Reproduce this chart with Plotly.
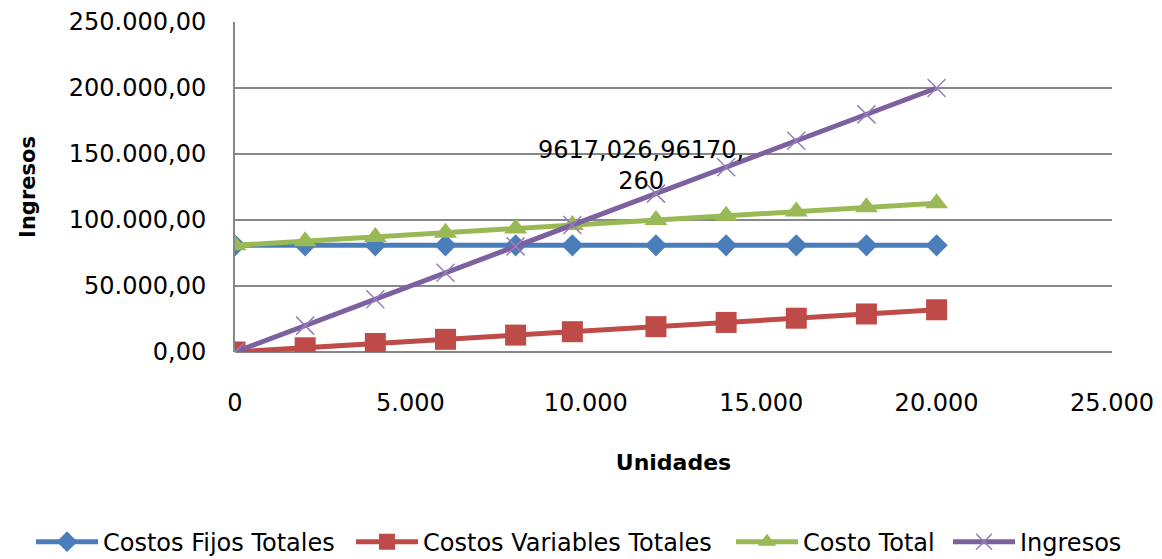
import plotly.graph_objects as go

unidades = [0, 2000, 4000, 6000, 8000, 9617.026, 12000, 14000, 16000, 18000, 20000]
costos_fijos = [80783.02, 80783.02, 80783.02, 80783.02, 80783.02, 80783.02,
                80783.02, 80783.02, 80783.02, 80783.02, 80783.02]
costos_variables = [0, 3200, 6400, 9600, 12800, 15387.24, 19200, 22400, 25600, 28800, 32000]
costo_total = [80783.02, 83983.02, 87183.02, 90383.02, 93583.02, 96170.26,
               99983.02, 103183.02, 106383.02, 109583.02, 112783.02]
ingresos = [0, 20000, 40000, 60000, 80000, 96170.26, 120000, 140000, 160000, 180000, 200000]

etiqueta_equilibrio = "9617,026,96170,<br>260"
etiqueta_x = 11560
etiqueta_y = 141500

FONT = "DejaVu Sans, Verdana, sans-serif"
GRID = "#878787"

fig = go.Figure()
fig.add_trace(go.Scatter(
    x=unidades, y=costos_fijos, name="Costos Fijos Totales", mode="lines+markers",
    line=dict(color="#4A7EBB", width=5), legend="legend",
    marker=dict(symbol="diamond", size=17, color="#4A7EBB")))
fig.add_trace(go.Scatter(
    x=unidades, y=costos_variables, name="Costos Variables Totales", mode="lines+markers",
    line=dict(color="#BE4B48", width=5), legend="legend2",
    marker=dict(symbol="square", size=21, color="#BE4B48")))
fig.add_trace(go.Scatter(
    x=unidades, y=costo_total, name="Costo Total", mode="lines+markers",
    line=dict(color="#98B954", width=5), legend="legend3",
    marker=dict(symbol="triangle-up", size=20, color="#98B954")))
fig.add_trace(go.Scatter(
    x=unidades, y=ingresos, name="Ingresos", mode="lines+markers",
    line=dict(color="#7D60A0", width=5), legend="legend4",
    marker=dict(symbol="x-thin", size=18, color="#7D60A0",
                line=dict(color="#9580BA", width=1.5))))

fig.add_annotation(x=etiqueta_x, y=etiqueta_y, text=etiqueta_equilibrio,
                   showarrow=False, font=dict(family=FONT, size=24, color="#000000"),
                   align="center")


def leyenda(xpos):
    return dict(orientation="h", xref="paper", x=xpos, xanchor="left",
                yref="paper", y=-0.576, yanchor="middle",
                font=dict(family=FONT, size=24), itemwidth=62,
                bgcolor="rgba(0,0,0,0)")


fig.update_layout(
    width=1162, height=559,
    paper_bgcolor="white", plot_bgcolor="white",
    separators=",.",
    font=dict(family=FONT, size=24, color="#000000"),
    margin=dict(l=235, r=50, t=22, b=207, autoexpand=False),
    showlegend=True,
    legend=leyenda(-0.2326),
    legend2=leyenda(0.1323),
    legend3=leyenda(0.5656),
    legend4=leyenda(0.8130),
    xaxis=dict(range=[0, 25000], dtick=5000, tickformat=",d",
               showgrid=False, zeroline=False, showline=False,
               ticks="outside", ticklen=29, tickcolor="rgba(0,0,0,0)",
               tickfont=dict(family=FONT, size=24),
               title=dict(text="<b>Unidades</b>", standoff=38,
                          font=dict(family=FONT, size=22))),
    yaxis=dict(range=[0, 250000], dtick=50000, tickformat=",.2f",
               showgrid=True, gridcolor=GRID, gridwidth=2,
               zeroline=True, zerolinecolor=GRID, zerolinewidth=2,
               showline=True, linecolor=GRID, linewidth=2,
               ticks="outside", ticklen=22, tickcolor="rgba(0,0,0,0)",
               tickfont=dict(family=FONT, size=24),
               title=dict(text="<b>Ingresos</b>", standoff=27,
                          font=dict(family=FONT, size=21))),
)

fig.write_html("out.html", config={"displayModeBar": False},
               post_script="document.body.style.margin='0';")
